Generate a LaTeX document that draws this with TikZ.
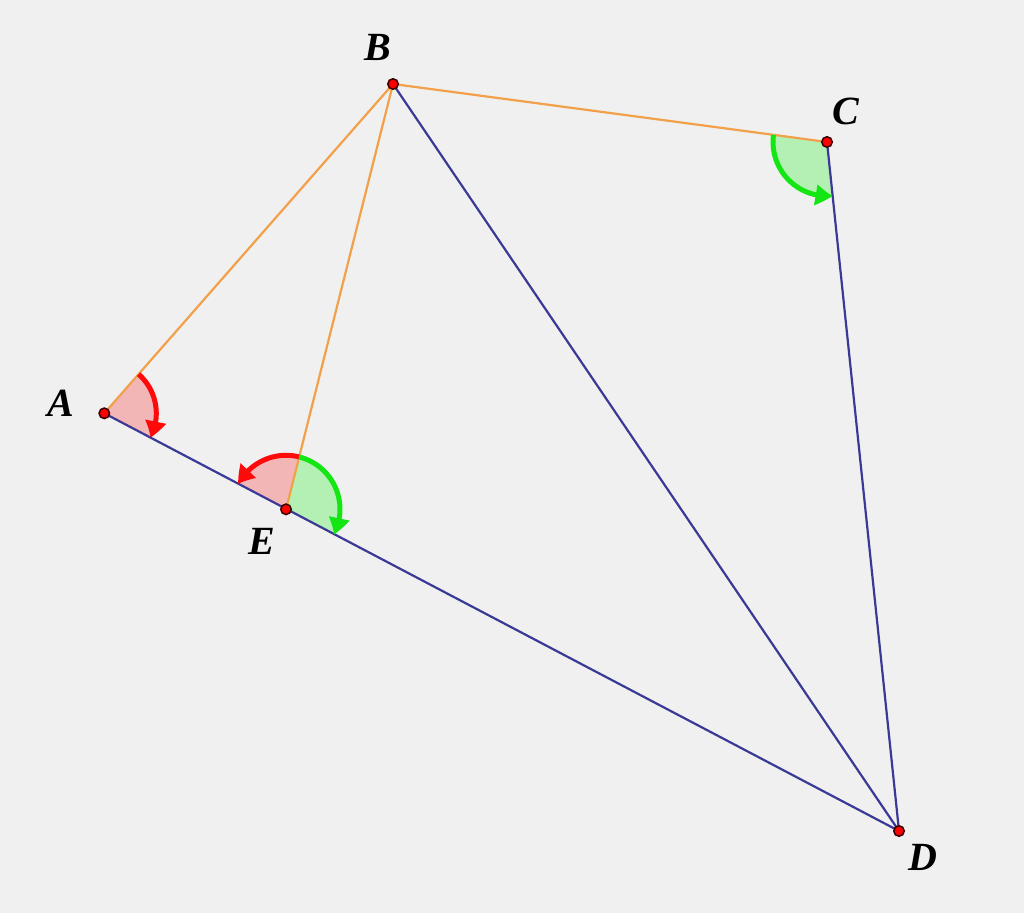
\documentclass[tikz,border=0pt]{standalone}
\usepackage{fontspec}
\setmainfont{Liberation Serif}
\usetikzlibrary{arrows.meta,bending}
\definecolor{bg}{HTML}{F0F0F0}
\definecolor{orangeline}{HTML}{F2A04A}
\definecolor{blueline}{HTML}{3A3A96}
\definecolor{redfill}{HTML}{F2B6B6}
\definecolor{greenfill}{HTML}{B4F0B4}
\definecolor{redarc}{HTML}{FF0A0A}
\definecolor{greenarc}{HTML}{14E614}
\definecolor{dotedge}{HTML}{3A0000}
\tikzset{
  oline/.style={orangeline,line width=2.2pt},
  bline/.style={blueline,line width=2.2pt},
  rfill/.style={fill=redfill},
  gfill/.style={fill=greenfill},
  rarrow/.style={redarc,line width=5pt,-{Triangle[length=17pt,width=20pt,bend]}},
  garrow/.style={greenarc,line width=5pt,-{Triangle[length=17pt,width=20pt,bend]}},
  ptdot/.style={circle,fill=red,draw=dotedge,line width=1.5pt,inner sep=0pt,minimum size=10.5pt},
  lbl/.style={font=\fontsize{40}{40}\selectfont\bfseries\itshape,inner sep=0pt}
}
\begin{document}
\begin{tikzpicture}[x=1pt,y=1pt]
\useasboundingbox (0,0) rectangle (1024,913);
\fill[bg] (0,0) rectangle (1024,913);
\coordinate (A) at (104.3,499.7);
\coordinate (B) at (393,829);
\coordinate (C) at (827,771);
\coordinate (D) at (899,82);
\coordinate (E) at (286,403.7);
% angle fills
\fill[rfill] (A) -- ++(-27.85:52) arc[start angle=-27.85,end angle=48.76,radius=52] -- cycle;
\fill[rfill] (E) -- ++(75.88:54) arc[start angle=75.88,end angle=152.15,radius=54] -- cycle;
\fill[gfill] (E) -- ++(-27.69:54) arc[start angle=-27.69,end angle=75.88,radius=54] -- cycle;
\fill[gfill] (C) -- ++(172.39:54) arc[start angle=172.39,end angle=275.97,radius=54] -- cycle;
% segments
\draw[oline] (A) -- (B);
\draw[oline] (B) -- (E);
\draw[oline] (B) -- (C);
\draw[bline] (B) -- (D);
\draw[bline] (C) -- (D);
\draw[bline] (A) -- (D);
% angle arrows
\draw[rarrow] (A) ++(48.76:52) arc[start angle=48.76,end angle=-27.85,radius=52];
\draw[rarrow] (E) ++(75.88:54) arc[start angle=75.88,end angle=152.15,radius=54];
\draw[garrow] (E) ++(75.88:54) arc[start angle=75.88,end angle=-27.69,radius=54];
\draw[garrow] (C) ++(172.39:54) arc[start angle=172.39,end angle=275.97,radius=54];
% points
\node[ptdot] (pA) at (A) {};
\node[ptdot] (pB) at (B) {};
\node[ptdot] (pC) at (C) {};
\node[ptdot] (pD) at (D) {};
\node[ptdot] (pE) at (E) {};
% labels
\node[lbl] (lA) at (61,510) {A};
\node[lbl] (lB) at (378,866) {B};
\node[lbl] (lC) at (846,802) {C};
\node[lbl] (lD) at (923,56) {D};
\node[lbl] (lE) at (262,372) {E};
\end{tikzpicture}
\end{document}
